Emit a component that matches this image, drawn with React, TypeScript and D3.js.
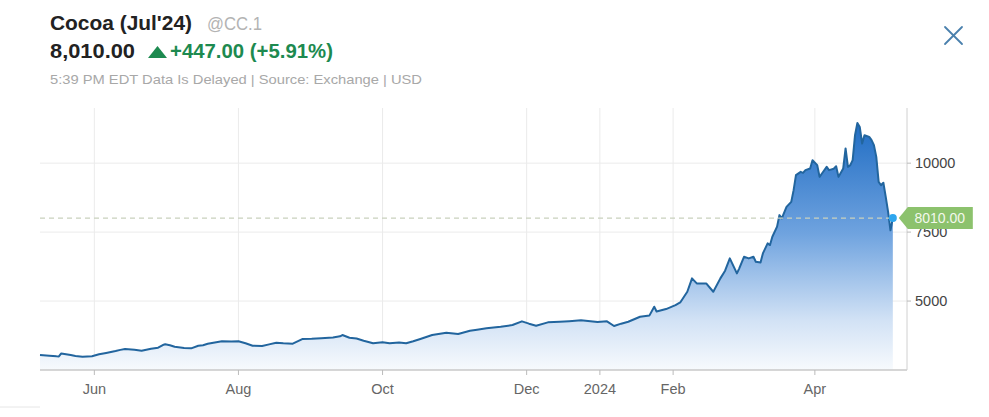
import React from 'react';
import * as d3 from 'd3';

// ---- data ----
const dates: string[] = [
  '2023-05-09','2023-05-13','2023-05-16','2023-05-17','2023-05-18','2023-05-20','2023-05-22','2023-05-24','2023-05-27','2023-05-31',
  '2023-06-03','2023-06-06','2023-06-10','2023-06-12','2023-06-14','2023-06-18','2023-06-21','2023-06-25','2023-06-28','2023-06-30',
  '2023-07-01','2023-07-03','2023-07-05','2023-07-09','2023-07-12','2023-07-15','2023-07-17','2023-07-19','2023-07-22','2023-07-25','2023-07-29',
  '2023-08-01','2023-08-04','2023-08-07','2023-08-11','2023-08-14','2023-08-17','2023-08-20','2023-08-24','2023-08-28',
  '2023-09-01','2023-09-05','2023-09-10','2023-09-13','2023-09-14','2023-09-17','2023-09-20','2023-09-23','2023-09-27',
  '2023-10-01','2023-10-04','2023-10-08','2023-10-11','2023-10-14','2023-10-17','2023-10-22','2023-10-28',
  '2023-11-02','2023-11-07','2023-11-10','2023-11-14','2023-11-20','2023-11-25','2023-11-29',
  '2023-12-02','2023-12-05','2023-12-10','2023-12-15','2023-12-19','2023-12-24','2023-12-28','2023-12-31',
  '2024-01-04','2024-01-07','2024-01-10','2024-01-13','2024-01-18','2024-01-22','2024-01-24','2024-01-25','2024-01-29',
  '2024-02-02','2024-02-04','2024-02-07','2024-02-09','2024-02-11','2024-02-15','2024-02-18','2024-02-21','2024-02-23','2024-02-25','2024-02-28','2024-02-29',
  '2024-03-02','2024-03-04','2024-03-06','2024-03-07','2024-03-09','2024-03-10','2024-03-12','2024-03-13','2024-03-14','2024-03-16','2024-03-17','2024-03-18',
  '2024-03-20','2024-03-22','2024-03-23','2024-03-24','2024-03-26','2024-03-27','2024-03-28','2024-03-30','2024-03-31',
  '2024-04-02','2024-04-03','2024-04-04','2024-04-06','2024-04-07','2024-04-09','2024-04-10','2024-04-11','2024-04-13','2024-04-14','2024-04-15',
  '2024-04-16','2024-04-17','2024-04-18','2024-04-19','2024-04-20','2024-04-21','2024-04-22','2024-04-24','2024-04-25','2024-04-26','2024-04-27',
  '2024-04-28','2024-04-29','2024-04-30','2024-05-01','2024-05-02','2024-05-03','2024-05-04',
];
const prices: number[] = [
  3043,3020,2995,2990,3100,3070,3040,3010,2982,3000,
  3069,3120,3188,3230,3261,3230,3199,3270,3308,3406,
  3431,3400,3344,3300,3286,3380,3400,3450,3500,3540,3530,
  3540,3470,3380,3370,3430,3489,3470,3453,3623,
  3630,3648,3680,3720,3768,3670,3640,3562,3467,
  3503,3467,3500,3467,3540,3623,3768,3851,
  3804,3924,3960,4011,4069,4130,4264,
  4180,4105,4228,4250,4270,4300,4270,4239,
  4264,4094,4180,4250,4431,4480,4794,4620,4710,
  4850,4950,5337,5822,5641,5641,5337,5822,6100,6547,6003,6186,
  6606,6547,6606,6426,6400,6728,7090,7030,7332,7700,8116,7996,
  8417,8598,9022,9565,9685,9650,9746,9808,10108,
  9928,9503,9624,9866,9746,9800,9890,9503,9808,10532,9866,
  9928,10108,11014,11460,11315,10713,11014,10953,10833,10652,10229,
  9322,9200,9290,8779,8236,7563,8010,
];
const yTicks: number[] = [5000, 7500, 10000];
const xTickDates: string[] = ['2023-06-01','2023-08-01','2023-10-01','2023-12-01','2024-01-01','2024-02-01','2024-04-01'];
const xTickLabels: string[] = ['Jun','Aug','Oct','Dec','2024','Feb','Apr'];
const domainDates: string[] = ['2023-05-09','2024-05-10'];
const yDomain: number[] = [2500, 12000];
const lastPrice = 8010;

const title = "Cocoa (Jul'24)";
const symbol = '@CC.1';
const priceText = '8,010.00';
const changeText = '+447.00 (+5.91%)';
const subText = '5:39 PM EDT Data Is Delayed | Source: Exchange | USD';

const parse = d3.timeParse('%Y-%m-%d');
const FONT = '"Liberation Sans", Arial, Helvetica, sans-serif';

export default function App() {
  const W = 989, H = 417;
  const left = 40, right = 907, top = 108, bottom = 370;
  const x = d3.scaleTime().domain(domainDates.map(d => parse(d) as Date)).range([left, right]);
  const y = d3.scaleLinear().domain(yDomain).range([bottom, top]);
  const pts = dates.map((d, i) => ({ d: parse(d) as Date, v: prices[i] }));
  const line = d3.line<{ d: Date; v: number }>().x(p => x(p.d)).y(p => y(p.v));
  const area = d3.area<{ d: Date; v: number }>().x(p => x(p.d)).y0(bottom).y1(p => y(p.v));
  const last = pts[pts.length - 1];
  const lx = x(last.d), ly = y(lastPrice);
  const tickXs = xTickDates.map(d => x(parse(d) as Date));

  return (
    <svg width={W} height={H} style={{ position: 'absolute', left: 0, top: 0, background: '#fff' }} fontFamily={FONT}>
      <defs>
        <linearGradient id="areaGrad" gradientUnits="userSpaceOnUse" x1="0" x2="0" y1={y(11500)} y2={bottom}>
          <stop offset="0" stopColor="#1f6cc3" />
          <stop offset="0.45" stopColor="#6fa3df" />
          <stop offset="0.8" stopColor="#d2e2f5" />
          <stop offset="1" stopColor="#f7fafd" />
        </linearGradient>
      </defs>
      <rect x={0} y={0} width={W} height={H} fill="#fff" />

      {/* header */}
      <text x={50} y={29.5} fontSize={20} fontWeight="bold" fill="#222" textLength={142} lengthAdjust="spacingAndGlyphs">{title}</text>
      <text x={207} y={29.5} fontSize={19} fill="#b3b3b3" textLength={55} lengthAdjust="spacingAndGlyphs">{symbol}</text>
      <text x={50} y={58} fontSize={20} fontWeight="bold" fill="#222" textLength={85} lengthAdjust="spacingAndGlyphs">{priceText}</text>
      <polygon points="148,58 157.5,46 167,58" fill="#1d8a50" />
      <text x={170} y={58} fontSize={20} fontWeight="bold" fill="#1d8a50" textLength={163} lengthAdjust="spacingAndGlyphs">{changeText}</text>
      <text x={50} y={84} fontSize={13} fill="#a8a8a8" textLength={372} lengthAdjust="spacingAndGlyphs">{subText}</text>

      {/* close icon */}
      <g stroke="#4a80ad" strokeWidth={1.8} strokeLinecap="round">
        <line x1={945} y1={27} x2={962} y2={44} />
        <line x1={962} y1={27} x2={945} y2={44} />
      </g>

      {/* grid */}
      <g stroke="#ebebeb" strokeWidth={1}>
        {tickXs.map((tx, i) => <line key={'vx' + i} x1={tx} x2={tx} y1={top} y2={bottom} />)}
        {yTicks.map((t, i) => <line key={'hy' + i} x1={left} x2={right} y1={y(t)} y2={y(t)} />)}
      </g>

      {/* area + line */}
      <path d={area(pts) || ''} fill="url(#areaGrad)" />
      <path d={line(pts) || ''} fill="none" stroke="#22659e" strokeWidth={2} strokeLinejoin="round" />

      {/* last price dashed line */}
      <line x1={left} x2={lx} y1={ly} y2={ly} stroke="#c9d1bd" strokeWidth={1.3} strokeDasharray="5,4" />

      {/* axes */}
      <line x1={left} x2={right} y1={bottom} y2={bottom} stroke="#c8c8c8" strokeWidth={1.5} />
      <line x1={right} x2={right} y1={top} y2={bottom} stroke="#d0d0d0" strokeWidth={1} />
      {tickXs.map((tx, i) => (
        <g key={'xt' + i}>
          <line x1={tx} x2={tx} y1={bottom} y2={bottom + 5} stroke="#bbb" />
          <text x={tx} y={394} fontSize={14.5} fill="#666" textAnchor="middle">{xTickLabels[i]}</text>
        </g>
      ))}
      {yTicks.map((t, i) => (
        <g key={'yt' + i}>
          <line x1={right} x2={right + 4} y1={y(t)} y2={y(t)} stroke="#bbb" />
          <text x={915} y={y(t)} dy="0.35em" fontSize={14.5} fill="#444">{t}</text>
        </g>
      ))}

      {/* last price marker + label */}
      <circle cx={lx} cy={ly} r={4} fill="#2ea6ef" />
      <path d={`M${lx + 6},${ly} L${lx + 15},${ly - 11} L${lx + 80},${ly - 11} L${lx + 80},${ly + 11} L${lx + 15},${ly + 11} Z`} fill="#8cc26d" />
      <text x={lx + 47} y={ly} dy="0.35em" fontSize={14} fill="#f3f8ec" textAnchor="middle">{lastPrice.toFixed(2)}</text>

      {/* faint frame bits */}
      <line x1={0} x2={40} y1={407} y2={407} stroke="#e6e6e6" />
    </svg>
  );
}
